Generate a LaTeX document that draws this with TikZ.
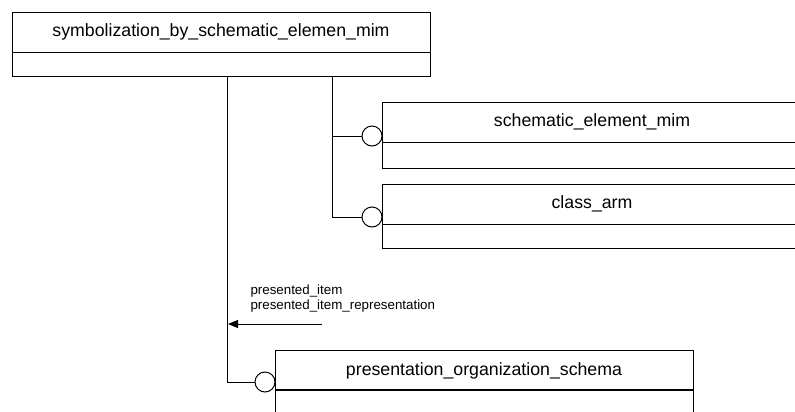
\documentclass[tikz,border=0pt]{standalone}
\usepackage{fontspec}
\setmainfont{Liberation Sans}
\usetikzlibrary{arrows.meta}

\tikzset{every picture/.style={line width=0.75pt}}
\tikzset{
  entbox/.style={draw, rectangle, inner sep=0pt},
  ring/.style={draw, circle, fill=white, minimum size=15pt, inner sep=0pt},
  enttitle/.style={inner sep=0.75pt, font=\fontsize{13.3}{16}\selectfont},
  rolelabel/.style={anchor=west, inner sep=0.75pt, font=\fontsize{10}{12}\selectfont}
}

\begin{document}
\begin{tikzpicture}[x=0.75pt,y=0.75pt,yscale=-1,xscale=1]
    \clip (0,0) rectangle (795,411);
    % entity boxes
    \node [entbox, minimum width=313.5pt, minimum height=48pt] (sym) at (221,44) {};
    \draw (12,52) -- (430,52) ;
    \node [enttitle] (symT) at (221,32) {symbolization\_by\_schematic\_elemen\_mim};
    \node [entbox, minimum width=321pt, minimum height=49.5pt] (sem) at (596,135) {};
    \draw (382,142) -- (810,142) ;
    \node [enttitle] (semT) at (592,122) {schematic\_element\_mim};
    \node [entbox, minimum width=321pt, minimum height=48pt] (cla) at (596,216) {};
    \draw (382,224) -- (810,224) ;
    \node [enttitle] (claT) at (592,204) {class\_arm};
    \node [entbox, minimum width=313.5pt, minimum height=60pt] (pos) at (484,390) {};
    \draw [line width=1pt] (275,390) -- (693,390) ;
    \node [enttitle] (posT) at (484,371) {presentation\_organization\_schema};
    % connectors
    \coordinate (symA) at (227,76);
    \coordinate (symB) at (332,76);
    \node [ring] (r1) at (372,136) {};
    \node [ring] (r2) at (372,217) {};
    \node [ring] (r3) at (265,382) {};
    \draw (symB) |- (r1) ;
    \draw (symB) |- (r2) ;
    \draw (symA) |- (r3) ;
    % role
    \coordinate (arrS) at (322,324);
    \coordinate (arrE) at (228,324);
    \draw [-{Triangle[length=7.5pt,width=6pt]}] (arrS) -- (arrE) ;
    \node [rolelabel] (lab1) at (249,291) {presented\_item};
    \node [rolelabel] (lab2) at (249,306) {presented\_item\_representation};
\end{tikzpicture}
\end{document}
